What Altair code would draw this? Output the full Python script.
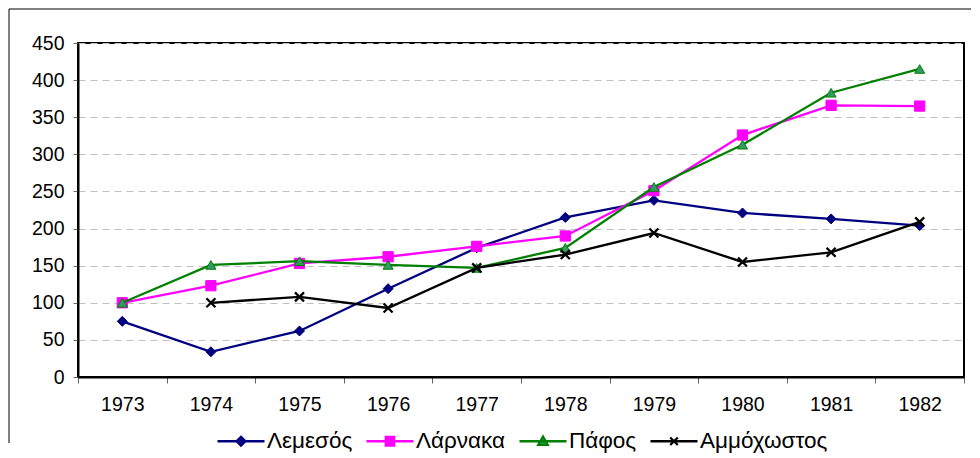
import altair as alt
import pandas as pd

# ---- data ----
years = ["1973", "1974", "1975", "1976", "1977", "1978", "1979", "1980", "1981", "1982"]
lemesos = [75, 34, 62, 119, 174, 215, 238, 221, 213, 204]
larnaka = [100, 123, 153, 162, 176, 190, 251, 326, 366, 365]
pafos = [100, 151, 156, 151, 147, 174, 256, 313, 383, 415]
ammochostos = [None, 100, 108, 93, 147, 165, 194, 155, 168, 209]

series_names = ["Λεμεσός", "Λάρνακα", "Πάφος", "Αμμόχωστος"]
series_values = [lemesos, larnaka, pafos, ammochostos]
y_ticks = [0, 50, 100, 150, 200, 250, 300, 350, 400, 450]

# ---- styles ----
line_colors = ["#000080", "#FF00FF", "#008000", "#000000"]
fill_colors = ["#000080", "#FF00FF", "#339966", "#000000"]
marker_shapes = ["diamond", "square", "triangle-up", "M-1,-1L1,1M-1,1L1,-1"]
marker_sizes = [100, 105, 100, 81]
legend_paths = [
    "M-1,0H1M0,-0.19L0.19,0L0,0.19L-0.19,0Z",
    "M-1,0H1M-0.18,-0.18H0.18V0.18H-0.18Z",
    "M-1,0H1M0,-0.2L0.2,0.15H-0.2Z",
    "M-1,0H1M-0.16,-0.16L0.16,0.16M-0.16,0.16L0.16,-0.16",
]
FONT = "Liberation Sans"

rows = []
for name, vals in zip(series_names, series_values):
    for yr, v in zip(years, vals):
        if v is not None:
            rows.append({"year": yr, "series": name, "value": v})
df = pd.DataFrame(rows)

x_enc = alt.X(
    "year:O",
    scale=alt.Scale(type="band", domain=years, paddingInner=0, paddingOuter=0),
    bandPosition=0.5,
    axis=alt.Axis(
        title=None, labelAngle=0, tickBand="extent", tickSize=6, tickColor="#666666",
        domainColor="#000000", domainWidth=2, labelFontSize=19.5, labelFont=FONT,
        labelColor="#000000", labelPadding=12, grid=False,
    ),
)
y_enc = alt.Y(
    "value:Q",
    scale=alt.Scale(domain=[0, 450], nice=False, zero=True),
    axis=alt.Axis(
        title=None, values=y_ticks, tickSize=5, tickColor="#666666",
        domainColor="#000000", domainWidth=2, labelFontSize=19.5, labelFont=FONT,
        labelColor="#000000", labelPadding=9, grid=True, gridDash=[7, 5],
        gridColor="#c0c0c0", gridWidth=1,
    ),
)

one = alt.Data(values=[{"a": 1}])
frame_left = alt.Chart(one).mark_rule(color="#000000", strokeWidth=1).encode(
    x=alt.value(-69), y=alt.value(-34), y2=alt.value(400)
)
frame_top = alt.Chart(one).mark_rule(color="#000000", strokeWidth=1).encode(
    x=alt.value(-69), x2=alt.value(893), y=alt.value(-34)
)

layers = [frame_left, frame_top]
for name, lc, fc, shp, sz in zip(series_names, line_colors, fill_colors, marker_shapes, marker_sizes):
    base = alt.Chart(df).transform_filter(alt.datum.series == name)
    layers.append(base.mark_line(color=lc, strokeWidth=2.3).encode(x=x_enc, y=y_enc))
    if shp.startswith("M"):
        pts = base.mark_point(shape=shp, filled=False, stroke=lc, strokeWidth=2.3,
                              size=sz, opacity=1)
    else:
        pts = base.mark_point(shape=shp, filled=True, fill=fc, stroke=lc, strokeWidth=1,
                              size=sz, opacity=1)
    layers.append(pts.encode(x=x_enc, y=y_enc))

leg = alt.Legend(
    title=None, orient="none", direction="horizontal", legendX=138, legendY=373,
    labelFontSize=22.5, labelFont=FONT, labelColor="#000000", symbolSize=2209,
    symbolStrokeWidth=2.3, symbolOpacity=1, labelOffset=1, columnPadding=8,
)
legend_layer = alt.Chart(df).mark_point(filled=True, opacity=1).encode(
    shape=alt.Shape("series:N", scale=alt.Scale(domain=series_names, range=legend_paths), legend=leg),
    fill=alt.Fill("series:N", scale=alt.Scale(domain=series_names, range=fill_colors), legend=leg),
    stroke=alt.Stroke("series:N", scale=alt.Scale(domain=series_names, range=line_colors), legend=leg),
).transform_filter("false")
layers.append(legend_layer)

chart = alt.layer(*layers).properties(
    width=886, height=334, padding=0, background="#ffffff"
).configure_view(stroke="#000000", strokeWidth=2)

chart.save("out.html", embed_options={"renderer": "svg", "actions": False})
